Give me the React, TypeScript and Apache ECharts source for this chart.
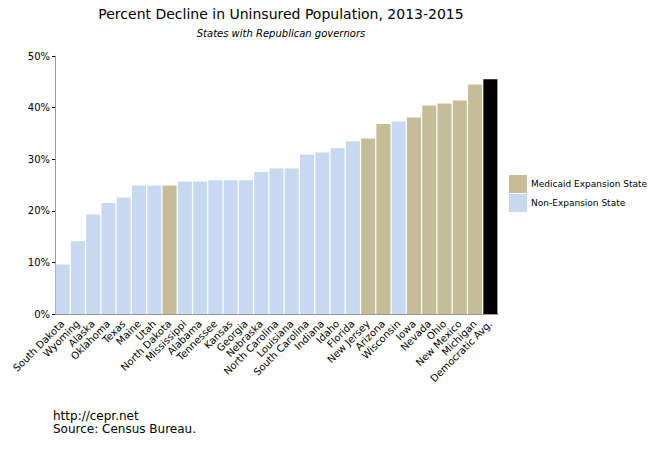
import React, { useEffect, useRef } from "react";
import * as echarts from "echarts";

const categories = [
  "South Dakota", "Wyoming", "Alaska", "Oklahoma", "Texas", "Maine", "Utah",
  "North Dakota", "Mississippi", "Alabama", "Tennessee", "Kansas", "Georgia",
  "Nebraska", "North Carolina", "Louisiana", "South Carolina", "Indiana", "Idaho",
  "Florida", "New Jersey", "Arizona", "Wisconsin", "Iowa", "Nevada", "Ohio",
  "New Mexico", "Michigan", "Democratic Avg.",
];

const values = [
  9.6, 14.1, 19.3, 21.5, 22.6, 24.9, 24.9, 24.9, 25.7, 25.7, 25.9, 25.9, 25.9,
  27.5, 28.2, 28.2, 30.9, 31.3, 32.1, 33.5, 34.0, 36.8, 37.3, 38.1, 40.4, 40.8,
  41.4, 44.5, 45.5,
];

// "E" = Medicaid expansion, "N" = non-expansion, "D" = Democratic average
const groups = [
  "N", "N", "N", "N", "N", "N", "N", "E", "N", "N", "N", "N", "N", "N", "N",
  "N", "N", "N", "N", "N", "E", "E", "N", "E", "E", "E", "E", "E", "D",
];

const yTicks = [0, 10, 20, 30, 40, 50];

const FONT = "DejaVu Sans";

export default function App() {
  const ref = useRef<HTMLDivElement>(null);
  useEffect(() => {
    if (!ref.current) return;
    const chart = echarts.init(ref.current, undefined, { renderer: "svg" });
    const pick = (g: string) => values.map((v, i) => (groups[i] === g ? v : null));
    const barCommon = {
      type: "bar" as const,
      barGap: "-100%",
      barCategoryGap: "8%",
    };
    chart.setOption({
      animation: false,
      title: [
        {
          text: "Percent Decline in Uninsured Population, 2013-2015",
          left: 276,
          top: 2,
          textAlign: "center",
          textStyle: { fontFamily: FONT, fontSize: 14, fontWeight: "normal", color: "#000" },
        },
        {
          text: "States with Republican governors",
          left: 276,
          top: 23,
          textAlign: "center",
          textStyle: { fontFamily: FONT, fontSize: 10, fontStyle: "italic", fontWeight: "normal", color: "#000" },
        },
      ],
      legend: {
        orient: "vertical",
        left: 509,
        top: 175,
        padding: 0,
        itemWidth: 18,
        itemHeight: 18,
        itemGap: 1,
        icon: "rect",
        data: ["Medicaid Expansion State", "Non-Expansion State"],
        textStyle: { fontFamily: FONT, fontSize: 9, color: "#000", padding: [0, 0, 0, -1] },
      },
      grid: { left: 55, right: 172, top: 56, bottom: 136, containLabel: false },
      xAxis: {
        type: "category",
        data: categories,
        axisLine: { lineStyle: { color: "#999" } },
        axisTick: { alignWithLabel: true, length: 3, lineStyle: { color: "#000" } },
        axisLabel: {
          rotate: 45,
          interval: 0,
          margin: 8,
          fontFamily: FONT,
          fontSize: 10,
          color: "#000",
        },
      },
      yAxis: {
        type: "value",
        min: 0,
        max: 50,
        interval: 10,
        axisLine: { show: true, lineStyle: { color: "#999" } },
        axisTick: { show: true, length: 3, lineStyle: { color: "#000" } },
        splitLine: { show: false },
        axisLabel: {
          formatter: (v: number) => (yTicks.includes(v) ? `${v}%` : ""),
          fontFamily: FONT,
          fontSize: 10,
          color: "#000",
          margin: 5,
        },
      },
      series: [
        { ...barCommon, name: "Medicaid Expansion State", data: pick("E"), itemStyle: { color: "#c4bd97" } },
        { ...barCommon, name: "Non-Expansion State", data: pick("N"), itemStyle: { color: "#c6d9f1" } },
        { ...barCommon, name: "Democratic Avg.", data: pick("D"), itemStyle: { color: "#000000" } },
      ],
      graphic: [
        {
          type: "text",
          left: 53,
          top: 409,
          style: {
            text: "http://cepr.net\nSource: Census Bureau.",
            font: `12px "${FONT}"`,
            lineHeight: 13,
            fill: "#000",
          },
        },
      ],
    });
    return () => chart.dispose();
  }, []);
  return <div ref={ref} style={{ width: 670, height: 450, position: "absolute", left: 0, top: 0 }} />;
}
